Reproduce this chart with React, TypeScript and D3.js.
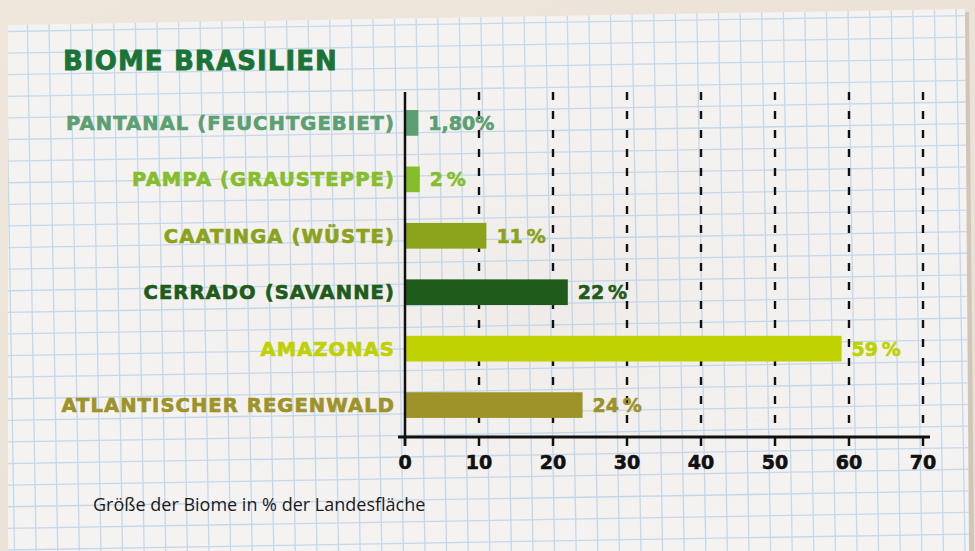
import * as d3 from 'd3';

const biomes = [
  'PANTANAL (FEUCHTGEBIET)',
  'PAMPA (GRAUSTEPPE)',
  'CAATINGA (WÜSTE)',
  'CERRADO (SAVANNE)',
  'AMAZONAS',
  'ATLANTISCHER REGENWALD',
];
const shares = [1.8, 2, 11, 22, 59, 24];
const shareLabels = ['1,80%', '2\u2009%', '11\u2009%', '22\u2009%', '59\u2009%', '24\u2009%'];
const colors = ['#5c9f72', '#86bd2a', '#8aa31b', '#1f5b1b', '#bfd100', '#9d9329'];
const ticks = [0, 10, 20, 30, 40, 50, 60, 70];

const W = 975;
const H = 551;
const labelFont = '"DejaVu Sans", sans-serif';

export default function App() {
  const x = d3.scaleLinear().domain([0, 70]).range([405, 923]);
  const y = d3.scaleBand().domain(biomes).range([92, 436]).paddingInner(0.545).paddingOuter(0.32);
  const axisY = 437;

  // graph paper grid
  const gridStep = 21.6;
  const vLines = d3.range(10, W + 40, gridStep);
  const hLines = d3.range(2, H + 40, gridStep);

  return (
    <div style={{ position: 'fixed', left: 0, top: 0 }}>
      <svg width={W} height={H} style={{ display: 'block' }}>
        <defs>
          <clipPath id="paper">
            <polygon points="8,25 965,9 969,551 8,551" />
          </clipPath>
          <linearGradient id="bg" x1="0" y1="0" x2="1" y2="1">
            <stop offset="0" stopColor="#efe6dc" />
            <stop offset="1" stopColor="#e9dfd3" />
          </linearGradient>
          <radialGradient id="crease" cx="0.55" cy="0.55" r="0.6">
            <stop offset="0" stopColor="#e9e5e2" stopOpacity="0.6" />
            <stop offset="1" stopColor="#f6f4f2" stopOpacity="0" />
          </radialGradient>
        </defs>
        <rect width={W} height={H} fill="url(#bg)" />
        <polygon points="11,28 969,12 974,551 11,551" fill="#b9aea3" opacity={0.55} />
        <polygon points="8,25 965,9 969,551 8,551" fill="#f5f3f1" />
        <g clipPath="url(#paper)">
          <rect width={W} height={H} fill="url(#crease)" />
          <g transform="rotate(-0.95 487 275)" stroke="#afcde8" strokeWidth={1.3} opacity={0.7}>
            {vLines.map((v, i) => (
              <line key={'v' + i} x1={v} x2={v} y1={-40} y2={H + 40} />
            ))}
            {hLines.map((h, i) => (
              <line key={'h' + i} x1={-40} x2={W + 40} y1={h} y2={h} />
            ))}
          </g>
        </g>

        <text x={63} y={70} fill="#1a7438" stroke="#1a7438" strokeWidth={0.8} fontFamily={labelFont} fontWeight={700} fontSize={26} letterSpacing={1.1}>
          BIOME BRASILIEN
        </text>

        {/* dashed gridlines */}
        {ticks.slice(1).map(t => (
          <line key={t} x1={x(t)} x2={x(t)} y1={92} y2={432} stroke="#111" strokeWidth={2.4} strokeDasharray="8,11" />
        ))}

        {/* bars */}
        {biomes.map((b, i) => (
          <g key={b}>
            <rect x={x(0)} y={y(b)} width={x(shares[i]) - x(0)} height={y.bandwidth()} fill={colors[i]} />
            <text
              x={395}
              y={y(b)! + y.bandwidth() / 2}
              dy="0.36em"
              textAnchor="end"
              fill={colors[i]}
              stroke={colors[i]}
              strokeWidth={0.7}
              fontFamily={labelFont}
              fontWeight={700}
              fontSize={19.5}
              letterSpacing={1.1}
            >
              {b}
            </text>
            <text
              x={x(shares[i]) + 10}
              y={y(b)! + y.bandwidth() / 2}
              dy="0.37em"
              fill={colors[i]}
              stroke={colors[i]}
              strokeWidth={0.6}
              fontFamily={labelFont}
              fontWeight={700}
              fontSize={19}
            >
              {shareLabels[i]}
            </text>
          </g>
        ))}

        {/* axes */}
        <line x1={x(0)} x2={x(0)} y1={92} y2={446} stroke="#111" strokeWidth={2.5} />
        <line x1={398} x2={930} y1={axisY} y2={axisY} stroke="#111" strokeWidth={2.8} />
        {ticks.map(t => (
          <g key={t} transform={`translate(${x(t)},0)`}>
            <line y1={axisY} y2={446} stroke="#111" strokeWidth={2.5} />
            <text y={469} textAnchor="middle" fill="#111" stroke="#111" strokeWidth={0.6} fontFamily={labelFont} fontWeight={700} fontSize={19}>
              {t}
            </text>
          </g>
        ))}

        <text x={93} y={511} fill="#1a1a1a" fontFamily='"Open Sans", sans-serif' fontSize={18}>
          Größe der Biome in % der Landesfläche
        </text>
      </svg>
    </div>
  );
}
